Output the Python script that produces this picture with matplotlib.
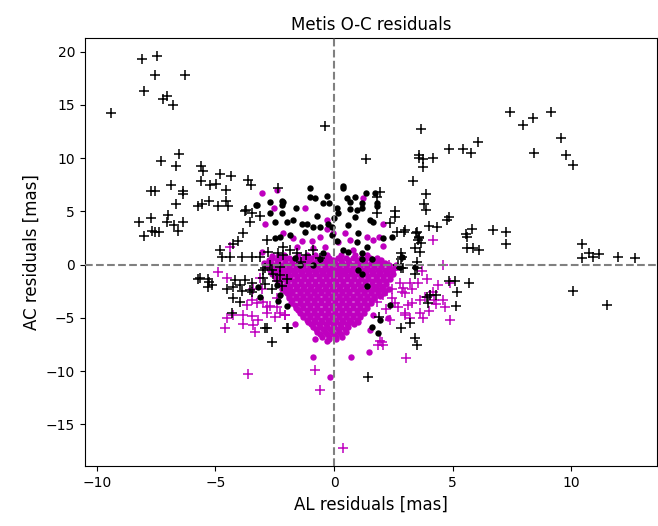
import matplotlib
matplotlib.use("Agg")
import matplotlib.pyplot as plt

# black '+' (rejected AL/AC residuals)
bp_x = [-8.10, -7.47, -7.55, -6.29, -8.02, -7.22, -7.05, -6.79, -9.41,
        -6.54, -7.30, -6.67, -5.61, -5.53, -4.81, -4.35, -5.61, -5.23, -4.98, -4.56,
        -3.63, -3.50, -7.72, -7.55, -6.88, -6.37, -6.37, -6.67, -5.74, -5.57, -5.27,
        -4.89, -4.56, -4.47, -7.00, -2.36, -3.71,
        -8.23, -7.72, -8.02, -7.68, -7.55, -7.38, -7.05, -6.75, -6.58, -6.37,
        -5.74, -5.27, -5.32,
        -3.76, -3.46, -3.12, -3.54, -3.84, -4.05, -4.26, -4.81, -4.39, -4.73, -3.88,
        -3.46, -3.12, -2.83, -2.78, -2.36, -2.15, -1.86, -1.55, -2.15, -2.70, -2.28,
        -3.00, -2.57, -2.28, -1.98, -5.65, -5.32, -5.15, -4.18, -3.97, -3.76, -3.46,
        -4.26, -4.51, -3.88, -3.46, -3.54, -3.97, -4.26, -4.30, -2.83, -1.98, -2.62,
        -2.91, -1.94, -2.9, -2.6, -2.4, -2.9, -2.6, -2.2, -3.0, -1.2, -0.9, -0.6, -1.4,
        1.43, 3.50, 1.90, 3.21, 2.83, 3.42, 3.92, 3.97, 3.42,
        -0.38, 1.35, 1.94, 1.81, 2.57, 2.57, 1.81, 2.36, 3.50, 3.59, 3.54, 3.42, 3.63,
        3.50, 3.50, 2.83, 2.83, 2.83, 2.66, 3.00, 2.70, 2.90, 2.87,
        7.43, 7.97, 8.40, 9.16, 9.58, 9.79, 10.08, 8.44, 3.67, 4.85, 5.44, 5.78, 6.08,
        3.59, 3.59, 3.76, 3.76, 4.18, 3.33, 3.88, 3.80, 3.88, 4.85, 4.77, 4.01, 4.35,
        2.95, 3.46, 3.59, 3.67, 5.57, 5.82, 5.61, 6.71, 7.26, 7.26, 5.61, 5.86, 6.12,
        10.46, 10.46, 10.76, 10.93, 11.18, 11.98, 12.70, 10.08, 11.52,
        4.85, 5.10, 5.70, 5.19, 5.15, 4.05, 4.30]
bp_y = [19.3, 19.6, 17.8, 17.8, 16.3, 15.6, 15.8, 15.0, 14.2,
        10.4, 9.7, 9.3, 9.3, 8.8, 8.5, 8.3, 7.9, 7.5, 7.6, 7.0,
        8.0, 7.5, 6.9, 6.9, 7.5, 6.9, 6.6, 5.7, 5.5, 5.7, 6.0,
        5.5, 6.0, 5.5, 4.7, 7.2, 5.1,
        4.0, 4.4, 2.7, 3.2, 3.1, 3.1, 4.0, 3.7, 3.2, 4.0,
        -1.3, -1.6, -2.1,
        5.0, 4.9, 4.6, 4.0, 3.0, 2.2, 1.9, 1.4, 0.7, 0.7, 0.7,
        0.7, 0.7, 2.3, 1.2, 1.1, 0.9, 1.4, 1.1, 1.7, 0.0, -0.2,
        -0.5, -0.9, -1.0, -1.3, -1.2, -1.3, -1.9, -1.4, -1.9, -1.4, -1.7,
        -2.1, -2.3, -2.5, -2.6, -2.4, -3.5, -3.1, -4.5, -5.9, -5.9, -7.3,
        -5.9, -5.9, -0.3, -0.5, -1.5, -1.8, -2.3, -2.0, -1.2, 0.9, 1.4, 0.6, 0.3,
        -10.5, -7.5, -4.9, -5.5, -5.9, -6.9, -3.0, -3.6, -0.9,
        13.0, 9.9, 6.8, 6.4, 5.0, 4.5, 4.9, 3.9, 3.1, 2.6, 2.3, 1.6, 1.2,
        0.3, -0.3, 1.1, 0.5, -0.3, 3.1, 3.3, 0.0, -0.3, 0.75,
        14.3, 13.1, 13.8, 14.3, 11.9, 10.3, 9.4, 10.5, 12.7, 10.9, 10.9, 10.5, 11.5,
        10.3, 10.0, 9.9, 9.2, 10.0, 7.9, 6.6, 5.7, 5.1, 4.5, 4.2, 3.6, 3.5,
        3.1, 3.0, 2.5, 2.0, 2.9, 3.4, 2.6, 3.3, 3.1, 1.9, 1.6, 1.6, 1.4,
        1.9, 0.6, 1.1, 0.7, 1.0, 0.7, 0.6, -2.5, -3.8,
        -1.5, -1.5, -1.7, -2.6, -3.9, -2.8, -2.8]

# black dots
bd_x = [-3.29, -2.70, -2.19, 0.38, 0.38, 0.89, 0.55, 0.68, 1.35, 1.73, 1.18, 1.18,
        1.81, 1.81, 1.52, 1.65, 0.97, 0.68, 0.13, 0.17, 0.59, 1.01, 1.39, 2.07, 2.45,
        2.87, 3.42, 2.78, 1.18, 1.60, 1.18, -0.08, 0.13, 0.38, 0.59, 0.97,
        -1.01, -1.01, -0.80, -0.46, -0.21, -2.15, -2.19, -3.25, -2.70, -2.19, -1.98,
        -1.73, -1.35, -1.14, -2.28, -2.49, -1.86, -1.22, -0.89, -0.59, -0.25, -0.08,
        -0.46, -0.59, -0.89, -1.65, -1.43, -3.21, -2.41, -2.28, -3.12, -2.36, -1.98,
        1.94, 1.60, 1.86, 2.36, 1.18, 1.39, 1.00,
        -0.30, -1.60, -0.70, 0.00, -2.50, 0.90]
bd_y = [5.6, 5.9, 6.0, 7.4, 7.2, 6.4, 6.3, 5.9, 6.7, 6.7, 5.8, 5.3,
        5.8, 5.5, 4.2, 4.0, 5.1, 5.2, 5.3, 4.9, 3.7, 3.0, 1.7, 2.5, 2.6,
        0.7, -0.2, -0.2, 1.1, 0.5, 0.5, 2.8, 2.2, 1.4, 1.2, 2.1,
        7.2, 6.4, 6.3, 5.8, 5.8, 5.9, 5.6, 5.6, 4.9, 4.9, 4.0,
        4.2, 3.8, 3.8, 2.6, 2.5, 2.8, 3.1, 3.5, 3.5, 3.8, 3.5,
        1.1, 0.5, 0.0, 0.6, 0.0, -2.1, -1.9, -2.8, -3.0, -3.4, -3.9,
        -5.2, -5.8, -6.4, -3.8, -0.9, -2.0, -0.5,
        6.5, 5.3, 4.6, 4.4, 4.0, 4.5]

# magenta '+'
mp_x = [4.18, 4.60, 4.90, -4.89, -4.51, -4.39, -3.12, -3.42, -4.51, -4.60, -4.26,
        -3.84, -3.84, -3.46, -3.42, -3.33, -3.21, -2.83, -2.70, -2.41, -2.28, -2.07,
        -3.25, -3.67, -3.46, -3.00, -3.04, -3.63, -0.80, -0.59, 0.38, 1.86, 2.07, 3.04,
        2.07, 2.45, 2.78, 3.00, 3.21, 3.54, 3.63, 3.84, 4.05, 4.18, 4.60, 4.68, 4.89,
        3.63, 3.76, 3.00, 2.57, 2.36, 2.03, 1.94, 2.57, 1.90, 2.40, 2.20, 2.70, 3.30,
        3.20, 4.30, 4.00, 1.60, 1.80, 2.90, 3.30, 4.40, 4.20, 3.90, 2.30, 3.70,
        2.07, 2.45, 2.87, 3.12, 3.00, -2.83, -2.49, -2.07, -1.43, -2.41]
mp_y = [2.3, 0.0, -1.7, -0.7, -1.2, 1.7, -1.2, -2.3, -5.0, -5.9, -4.7,
        -4.7, -5.6, -4.8, -5.7, -6.3, -5.2, -4.5, -3.9, -4.0, -4.5, -4.7,
        -3.6, -3.8, -3.3, -3.5, -2.3, -10.3, -9.9, -11.8, -17.2, -7.5, -7.5, -8.8,
        -2.8, -2.3, -1.7, -2.7, -1.7, -1.7, -3.3, -3.0, -2.8, -2.6, -3.3, -4.0, -5.2,
        -4.5, -5.0, -4.5, -3.6, -5.2, -7.3, -7.2, -0.5, -1.6, -1.0, -4.2, -4.0, -3.6,
        -5.0, -3.7, -4.3, -2.5, -3.5, -2.2, -2.3, -1.9, -3.3, -1.3, 0.0, -0.6,
        -2.3, -3.1, -2.6, -3.8, -4.7, -4.0, -4.9, -4.7, -3.8, -3.1]

# magenta dots, scattered ones
md_x = [-3.04, -2.41, -2.53, -1.22, -2.91, -3.04, -2.62, -2.36, -2.15, -1.73, -1.55,
        -1.35, -1.14, -0.93, -0.89, -0.59, -0.30, -0.30, -0.38, -0.04, 1.22, 2.07,
        1.90, 2.07, 0.46, 0.17, 0.68, 1.39, 1.65, 0.80,
        -1.65, -0.89, -0.17, -0.80, -0.30, 0.72, 1.48, -0.20, 0.10,
        1.65, 2.28, 1.52]
md_y = [6.7, 7.0, 5.3, 5.3, 3.8, 1.2, 0.8, 0.8, 3.0, 2.5, 1.7,
        2.2, 0.9, 2.2, 1.6, 2.6, 4.2, 3.4, 1.7, 3.0, 6.3, 3.8,
        2.6, 1.8, 3.0, 2.1, 2.3, 2.6, 2.3, 1.4,
        -5.6, -8.7, -10.5, -7.0, -7.2, -8.7, -8.2, -7.0, -7.0,
        -4.7, -5.0, -6.1]

# magenta dots, dense core (rows)
core_y = [0.9, 0.45, 0.0, -0.45, -0.9, -1.35, -1.8, -2.25, -2.7, -3.15, -3.6,
          -4.05, -4.5, -4.95, -5.4, -5.85, -6.3, -6.75]
core_x = [
    [-2.1, -1.5, -0.8, -0.3, 0.3, 0.9, 1.4],
    [-2.75, -2.4, -2.05, -1.75, -1.4, -1.05, -0.7, -0.4, -0.05, 0.3, 0.6, 0.95, 1.3, 1.65, 2.0],
    [-2.85, -2.5, -2.2, -1.9, -1.6, -1.3, -1.0, -0.7, -0.4, -0.1, 0.2, 0.5, 0.8, 1.1, 1.4, 1.7, 2.0, 2.3, 2.6],
    [-2.7, -2.35, -2.05, -1.75, -1.45, -1.15, -0.85, -0.55, -0.25, 0.05, 0.35, 0.65, 0.95, 1.25, 1.55, 1.85, 2.15, 2.45],
    [-2.6, -2.3, -2.0, -1.7, -1.4, -1.1, -0.8, -0.5, -0.2, 0.1, 0.4, 0.7, 1.0, 1.3, 1.6, 1.9, 2.2, 2.5],
    [-2.45, -2.15, -1.85, -1.55, -1.25, -0.95, -0.65, -0.35, -0.05, 0.25, 0.55, 0.85, 1.15, 1.45, 1.75, 2.05, 2.35],
    [-2.3, -2.0, -1.7, -1.4, -1.1, -0.8, -0.5, -0.2, 0.1, 0.4, 0.7, 1.0, 1.3, 1.6, 1.9, 2.2],
    [-2.2, -1.9, -1.6, -1.3, -1.0, -0.7, -0.4, -0.1, 0.2, 0.5, 0.8, 1.1, 1.4, 1.7, 2.0, 2.3],
    [-2.0, -1.75, -1.45, -1.15, -0.85, -0.55, -0.25, 0.05, 0.35, 0.65, 0.95, 1.25, 1.55, 1.85, 2.1],
    [-1.9, -1.6, -1.3, -1.0, -0.7, -0.4, -0.1, 0.2, 0.5, 0.8, 1.1, 1.4, 1.7],
    [-1.8, -1.45, -1.15, -0.85, -0.55, -0.25, 0.05, 0.35, 0.65, 0.95, 1.25, 1.55],
    [-1.6, -1.3, -1.0, -0.7, -0.4, -0.1, 0.2, 0.5, 0.8, 1.1, 1.4],
    [-1.45, -1.15, -0.85, -0.55, -0.25, 0.05, 0.35, 0.65, 0.95, 1.25],
    [-1.3, -1.0, -0.7, -0.4, -0.1, 0.2, 0.5, 0.8, 1.1],
    [-1.1, -0.8, -0.5, -0.2, 0.1, 0.4, 0.7, 1.0],
    [-0.9, -0.6, -0.3, 0.0, 0.3, 0.6],
    [-0.7, -0.4, -0.1, 0.2, 0.5],
    [-0.5, -0.2, 0.1, 0.35],
]
# second, staggered pass over the core so it reads as solid
core2_y = [0.65, 0.2, -0.25, -0.7, -1.1, -1.55, -2.0, -2.45, -2.9, -3.35, -3.8,
           -4.25, -4.7, -5.15, -5.6, -6.05, -6.5]
core2_x = [
    [-2.6, -2.25, -1.9, -1.6, -1.25, -0.95, -0.6, -0.2, 0.15, 0.5, 0.8, 1.15, 1.5, 1.8],
    [-2.95, -2.65, -2.35, -2.05, -1.75, -1.45, -1.15, -0.85, -0.55, -0.25, 0.05, 0.35, 0.65, 0.95, 1.25, 1.55, 1.85, 2.15],
    [-2.8, -2.5, -2.2, -1.9, -1.6, -1.3, -1.0, -0.7, -0.4, -0.1, 0.2, 0.5, 0.8, 1.1, 1.4, 1.7, 2.0, 2.3, 2.55],
    [-2.55, -2.25, -1.95, -1.65, -1.35, -1.05, -0.75, -0.45, -0.15, 0.15, 0.45, 0.75, 1.05, 1.35, 1.65, 1.95, 2.25],
    [-2.45, -2.15, -1.85, -1.55, -1.25, -0.95, -0.65, -0.35, -0.05, 0.25, 0.55, 0.85, 1.15, 1.45, 1.75, 2.05, 2.35],
    [-2.3, -2.0, -1.7, -1.4, -1.1, -0.8, -0.5, -0.2, 0.1, 0.4, 0.7, 1.0, 1.3, 1.6, 1.9, 2.2],
    [-2.1, -1.85, -1.55, -1.25, -0.95, -0.65, -0.35, -0.05, 0.25, 0.55, 0.85, 1.15, 1.45, 1.75, 2.05],
    [-2.05, -1.75, -1.45, -1.15, -0.85, -0.55, -0.25, 0.05, 0.35, 0.65, 0.95, 1.25, 1.55, 1.85, 2.15],
    [-1.9, -1.6, -1.3, -1.0, -0.7, -0.4, -0.1, 0.2, 0.5, 0.8, 1.1, 1.4, 1.7, 1.95],
    [-1.75, -1.45, -1.15, -0.85, -0.55, -0.25, 0.05, 0.35, 0.65, 0.95, 1.25, 1.55],
    [-1.65, -1.3, -1.0, -0.7, -0.4, -0.1, 0.2, 0.5, 0.8, 1.1, 1.4],
    [-1.5, -1.15, -0.85, -0.55, -0.25, 0.05, 0.35, 0.65, 0.95, 1.25],
    [-1.3, -1.0, -0.7, -0.4, -0.1, 0.2, 0.5, 0.8, 1.1],
    [-1.15, -0.85, -0.55, -0.25, 0.05, 0.35, 0.65, 0.95],
    [-0.95, -0.65, -0.35, -0.05, 0.25, 0.55, 0.85],
    [-0.75, -0.45, -0.15, 0.15, 0.45],
    [-0.6, -0.3, 0.0, 0.3],
]

for yy, row in zip(core_y + core2_y, core_x + core2_x):
    md_x += row
    md_y += [yy] * len(row)

fig = plt.figure(figsize=(6.58, 5.26), dpi=100)
ax = fig.add_axes([0.129, 0.114, 0.869, 0.814])

ax.plot(mp_x, mp_y, '+', color='m', markersize=7, markeredgewidth=1.1)
ax.plot(md_x, md_y, 'o', color='m', markersize=4.6, markeredgewidth=0)
ax.plot(bp_x, bp_y, '+', color='k', markersize=7, markeredgewidth=1.1)
ax.plot(bd_x, bd_y, 'o', color='k', markersize=4.6, markeredgewidth=0)

ax.axhline(0, color='gray', ls='--', lw=1.5, zorder=5)
ax.axvline(0, color='gray', ls='--', lw=1.5, zorder=5)

ax.set_xlim(-10.5, 13.6)
ax.set_ylim(-18.9, 21.3)
ax.set_xlabel('AL residuals [mas]', fontsize=12)
ax.set_ylabel('AC residuals [mas]', fontsize=12)
ax.set_title('Metis O-C residuals', fontsize=12)

fig.savefig('out.png', dpi=100)
